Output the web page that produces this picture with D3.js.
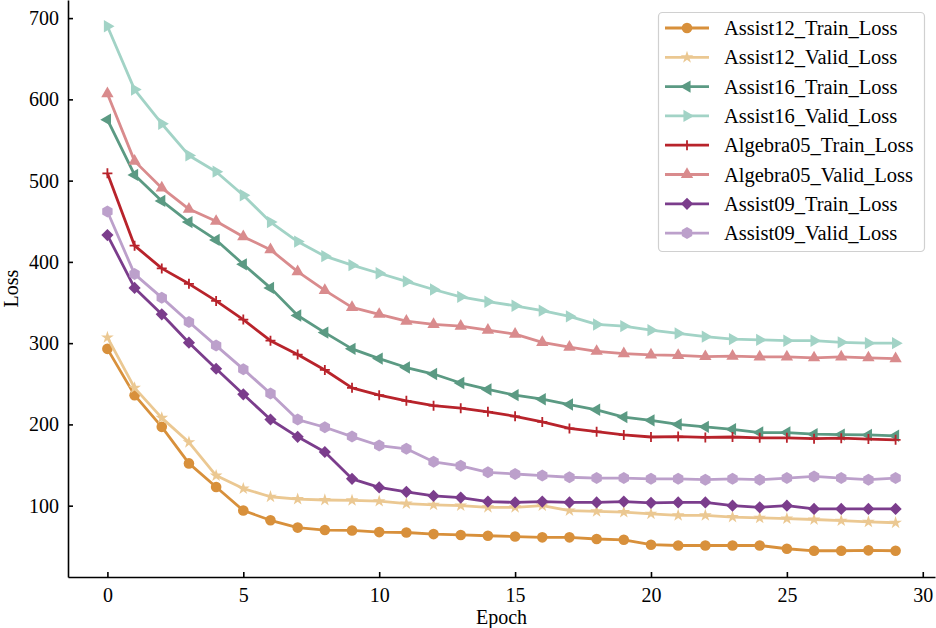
<!DOCTYPE html>
<html>
<head>
<meta charset="utf-8">
<script src="https://cdn.jsdelivr.net/npm/d3@7"></script>
<style>
body { margin: 0; background: #fff; }
svg { display: block; font-family: "Liberation Serif", "DejaVu Serif", serif; }
.axis text { font-family: "Liberation Serif", "DejaVu Serif", serif; font-size: 20px; fill: #000; }
.axis path, .axis line { stroke: #000; stroke-width: 1.6px; }
</style>
</head>
<body>
<div id="chart"></div>
<script>
// epochs 0..29
var epochs = [0,1,2,3,4,5,6,7,8,9,10,11,12,13,14,15,16,17,18,19,20,21,22,23,24,25,26,27,28,29];
var xTicks = [0,5,10,15,20,25,30];
var yTicks = [100,200,300,400,500,600,700];

var assist12Train = [293,236,197,152,123,94,82,73,70,69.5,67.5,67,65,64,63,62,61,61,59,58,52,51,51,51,51,47,44.5,44.5,45,44.5];
var assist12Valid = [307,245,208,178,137,121,111,108,107,106.5,105.5,102.5,101,100,98,98,100,94,93,92,90,88,88,86,85,84,83,81.5,80,79];
var assist16Train = [575,507,475,449,427,397,368,334,313,293,281,270,262,251,243,236,231,224.5,218,209,205,200,197,194,190,190,188,187.5,187,186];
var assist16Valid = [690,612,570,531,511,482,449,425,407,396,386,376,366,357,351,346,340,333,323,321,316,312,308,305,304,303,303,301,300,300];
var algebra05Train = [509,420,392,373,352,329,303,286,267,245,236,229,223,220,215.5,210,203,195,191,187,184.5,185,184,184.5,183.5,183.5,182.5,183,182,181];
var algebra05Valid = [607,524,491,465,450,431,415,388,365,344,335.5,327,323,321,316,311,301,295,290,287,285.5,285,283.5,284,283,283,282,283,282,281];
var assist09Train = [433,368,335.5,300.6,268.5,237,206,184.7,166,133,122.5,117,112,110,105,104,105,104,104,105,103.5,104,104,100,98,100,96,96,96,96];
var assist09Valid = [462,385,356,326,297,268,238,206,196.5,185,174,170,154,149,141,139,137,135,134,134,133,133,132,133,132,134,136,134,132,134];

var seriesNames = ["Assist12_Train_Loss","Assist12_Valid_Loss","Assist16_Train_Loss","Assist16_Valid_Loss",
                   "Algebra05_Train_Loss","Algebra05_Valid_Loss","Assist09_Train_Loss","Assist09_Valid_Loss"];
var seriesValues = [assist12Train, assist12Valid, assist16Train, assist16Valid,
                    algebra05Train, algebra05Valid, assist09Train, assist09Valid];
var colors = ["#d8903b","#ebc892","#5b9a83","#a2d3c6","#b8232b","#d98b8d","#7b3d8c","#bca0cb"];
var markers = ["circle","star","tleft","tright","plus","tup","diamond","hex"];

var width = 936, height = 628;
var plotLeft = 68, plotRight = 935, plotTop = 0, plotBottom = 577;

var allVals = d3.merge(seriesValues);
var lo = d3.min(allVals), hi = d3.max(allVals), pad = (hi - lo) * 0.05;

var x = d3.scaleLinear().domain([-1.45, 30.45]).range([plotLeft, plotRight]);
var y = d3.scaleLinear().domain([lo - pad, hi + pad]).range([plotBottom, plotTop]);

var svg = d3.select("#chart").append("svg")
  .attr("width", width)
  .attr("height", height);

/* marker paths */
function hexPath(r) {
  var pts = [];
  for (var k = 0; k < 6; k++) {
    var a = Math.PI / 2 + k * Math.PI / 3;
    pts.push([r * Math.cos(a), r * Math.sin(a)]);
  }
  return d3.line()(pts) + "Z";
}
function markerShape(sel, type, color) {
  if (type == "circle") {
    sel.append("circle").attr("r", 5.3).attr("fill", color);
  } else if (type == "star") {
    sel.append("path").attr("d", d3.symbol(d3.symbolStar, 50)()).attr("fill", color);
  } else if (type == "tup" || type == "tleft" || type == "tright") {
    var rot = type == "tup" ? 0 : (type == "tleft" ? -90 : 90);
    sel.append("path").attr("d", d3.symbol(d3.symbolTriangle, 66)())
      .attr("transform", "rotate(" + rot + ")").attr("fill", color);
  } else if (type == "plus") {
    sel.append("path").attr("d", "M0,-5V5M-5,0H5")
      .attr("stroke", color).attr("stroke-width", 1.8).attr("fill", "none");
  } else if (type == "diamond") {
    sel.append("path").attr("d", d3.symbol(d3.symbolSquare, 74)())
      .attr("transform", "rotate(45)").attr("fill", color);
  } else if (type == "hex") {
    sel.append("path").attr("d", hexPath(6)).attr("fill", color);
  }
}

/* axes */
var xAxis = d3.axisBottom(x).tickValues(xTicks).tickSizeInner(-5).tickSizeOuter(0).tickPadding(11);
var yAxis = d3.axisLeft(y).tickValues(yTicks).tickSizeInner(-5).tickSizeOuter(0).tickPadding(9);

svg.append("g")
  .attr("class", "x axis")
  .attr("transform", "translate(0," + plotBottom + ")")
  .call(xAxis);

svg.append("g")
  .attr("class", "y axis")
  .attr("transform", "translate(" + plotLeft + ",0)")
  .call(yAxis);

svg.append("text")
  .attr("x", (plotLeft + plotRight) / 2)
  .attr("y", 624)
  .attr("text-anchor", "middle")
  .style("font-size", "20px")
  .text("Epoch");

svg.append("text")
  .attr("transform", "translate(18," + ((plotTop + plotBottom) / 2) + ") rotate(-90)")
  .attr("text-anchor", "middle")
  .style("font-size", "20px")
  .text("Loss");

/* lines + markers */
var line = d3.line()
  .x((d, i) => x(epochs[i]))
  .y(d => y(d));

var plot = svg.append("g").attr("class", "lines");

seriesValues.forEach(function(vals, s) {
  var g = plot.append("g");
  g.append("path")
    .attr("d", line(vals))
    .attr("fill", "none")
    .attr("stroke", colors[s])
    .attr("stroke-width", 2.8)
    .attr("stroke-linejoin", "round");
  vals.forEach(function(v, i) {
    var m = g.append("g").attr("transform", "translate(" + x(epochs[i]) + "," + y(v) + ")");
    markerShape(m, markers[s], colors[s]);
  });
});

/* legend */
var legend = svg.append("g").attr("class", "legend");
legend.append("rect")
  .attr("x", 658.5).attr("y", 12.5)
  .attr("width", 266).attr("height", 239)
  .attr("rx", 4)
  .attr("fill", "#fff").attr("fill-opacity", 0.85)
  .attr("stroke", "#d0d0d0").attr("stroke-width", 1.2);

seriesNames.forEach(function(name, s) {
  var ly = 28 + s * 29.3;
  var row = legend.append("g").attr("transform", "translate(0," + ly + ")");
  row.append("line")
    .attr("x1", 665).attr("x2", 709)
    .attr("stroke", colors[s]).attr("stroke-width", 2.8);
  var m = row.append("g").attr("transform", "translate(687,0)");
  markerShape(m, markers[s], colors[s]);
  row.append("text")
    .attr("x", 724).attr("y", 0).attr("dy", "0.35em")
    .style("font-size", "20.5px")
    .text(name);
});
</script>
</body>
</html>
